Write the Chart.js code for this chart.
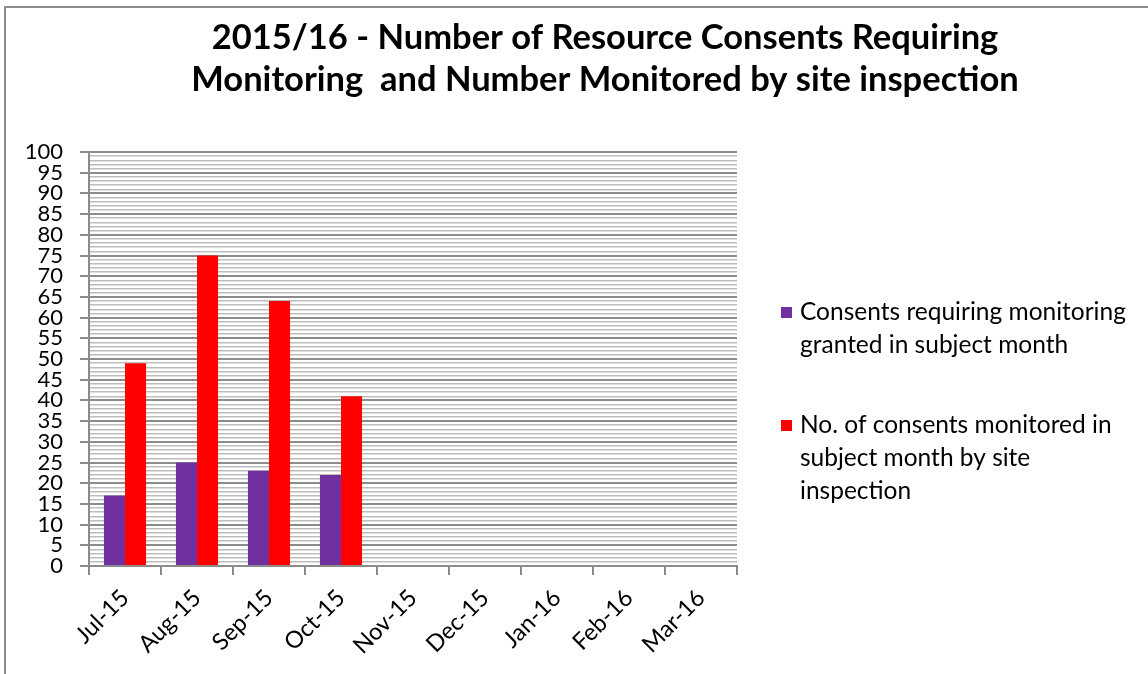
<!DOCTYPE html>
<html>
<head>
<meta charset="utf-8">
<script src="https://cdn.jsdelivr.net/npm/chart.js@4.4.1/dist/chart.umd.min.js"></script>
<style>
  html, body { margin: 0; padding: 0; background: #fff; }
  #wrap { width: 1148px; height: 674px; position: relative; }
</style>
</head>
<body>
<div id="wrap"><canvas id="c" width="1148" height="674"></canvas></div>
<script>
const categories = ['Jul-15','Aug-15','Sep-15','Oct-15','Nov-15','Dec-15','Jan-16','Feb-16','Mar-16'];
const consentsRequiring = [17, 25, 23, 22, null, null, null, null, null];
const consentsMonitored = [49, 75, 64, 41, null, null, null, null, null];
const seriesLabels = [
  ['Consents requiring monitoring', 'granted in subject month'],
  ['No. of consents monitored in', 'subject month by site', 'inspection']
];
const titleLines = ['2015/16 - Number of Resource Consents Requiring', 'Monitoring  and Number Monitored by site inspection'];
const yMin = 0, yMax = 100, yMajorStep = 5, yMinorStep = 1;

const FONT = 'Lato, "Liberation Sans", sans-serif';

const decorPlugin = {
  id: 'decor',
  beforeDraw(chart) {
    const ctx = chart.ctx;
    ctx.save();
    ctx.fillStyle = '#fff';
    ctx.fillRect(0, 0, chart.width, chart.height);
    ctx.strokeStyle = '#8c8c8c';
    ctx.lineWidth = 2;
    ctx.beginPath();
    ctx.moveTo(5, chart.height);
    ctx.lineTo(5, 7);
    ctx.lineTo(chart.width, 7);
    ctx.stroke();
    ctx.restore();
  },
  afterDraw(chart) {
    const ctx = chart.ctx;
    ctx.save();
    // title
    ctx.fillStyle = '#000';
    ctx.font = 'bold 34.5px ' + FONT;
    ctx.textAlign = 'center';
    ctx.textBaseline = 'alphabetic';
    titleLines.forEach((t, i) => ctx.fillText(t, 605, 49 + i * 42));
    // legend
    const x0 = chart.chartArea.right + 44;
    const starts = [312, 425];
    ctx.font = '24.5px ' + FONT;
    ctx.textAlign = 'left';
    ctx.textBaseline = 'middle';
    chart.data.datasets.forEach((ds, i) => {
      ctx.fillStyle = ds.backgroundColor;
      ctx.fillRect(x0, starts[i] - 5, 11, 11);
      ctx.fillStyle = '#000';
      const lines = seriesLabels[i];
      lines.forEach((l, j) => ctx.fillText(l, x0 + 19, starts[i] + j * 33));
    });
    ctx.restore();
  }
};

new Chart(document.getElementById('c'), {
  type: 'bar',
  data: {
    labels: categories,
    datasets: [
      { label: seriesLabels[0].join(' '), data: consentsRequiring, backgroundColor: '#7030A0',
        categoryPercentage: 0.585, barPercentage: 1.0 },
      { label: seriesLabels[1].join(' '), data: consentsMonitored, backgroundColor: '#FF0000',
        categoryPercentage: 0.585, barPercentage: 1.0 }
    ]
  },
  options: {
    responsive: false,
    animation: false,
    layout: { padding: { top: 152, left: 10, right: 411, bottom: 0 } },
    plugins: {
      legend: { display: false },
      title: { display: false },
      tooltip: { enabled: false }
    },
    scales: {
      x: {
        grid: { display: true, drawOnChartArea: false, drawTicks: true, tickLength: 9, color: '#8c8c8c', lineWidth: 2, offset: true },
        border: { display: true, color: '#8c8c8c', width: 2 },
        ticks: { color: '#000', font: { family: FONT, size: 23.5 }, maxRotation: 45, minRotation: 45, autoSkip: false, padding: 9 },
        afterFit(scale) { scale.height = 674 - 566; }
      },
      y: {
        min: yMin, max: yMax,
        grid: {
          color: (c) => (c.tick && c.tick.value % yMajorStep === 0) ? '#8c8c8c' : '#bdbdbd',
          lineWidth: (c) => (c.tick && c.tick.value % yMajorStep === 0) ? 2 : 1.5,
          tickColor: (c) => (c.tick && c.tick.value % yMajorStep === 0) ? '#8c8c8c' : 'rgba(0,0,0,0)',
          tickLength: 9, drawTicks: true
        },
        border: { display: true, color: '#8c8c8c', width: 2 },
        ticks: {
          stepSize: yMinorStep, autoSkip: false, color: '#000', padding: 17,
          font: { family: FONT, size: 22 },
          callback: (v) => (v % yMajorStep === 0 ? String(v) : '')
        },
        afterFit(scale) { scale.width = 89 - 10; }
      }
    }
  },
  plugins: [decorPlugin]
});
</script>
</body>
</html>
